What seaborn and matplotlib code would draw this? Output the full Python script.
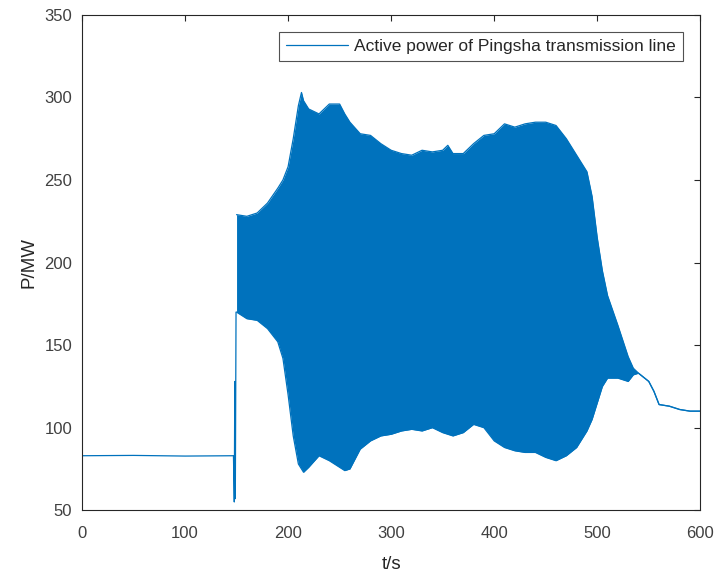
import matplotlib
matplotlib.use("Agg")
import matplotlib.pyplot as plt
import seaborn as sns
import pandas as pd

# ---- data ----
pre_t = [0, 50, 100, 147.0, 147.8, 148.3, 148.8, 149.5]
pre_p = [83, 83.2, 82.8, 83, 55, 128, 57, 170]

env_t = [150, 160, 170, 180, 190, 195, 200, 205, 210, 213, 215, 220, 230, 240, 250,
         255, 260, 270, 280, 290, 300, 310, 320, 330, 340, 350, 355, 360, 370, 380,
         390, 400, 410, 420, 430, 440, 450, 460, 470, 480, 490, 495, 500, 505, 510,
         520, 530, 535, 540, 550, 555, 560, 570, 580, 590, 600]
env_upper = [229, 228, 230, 236, 245, 250, 258, 275, 295, 303, 298, 293, 290, 296, 296,
             290, 285, 278, 277, 272, 268, 266, 265, 268, 267, 268, 271, 266, 266, 272,
             277, 278, 284, 282, 284, 285, 285, 283, 275, 265, 255, 240, 215, 195, 180,
             162, 143, 136, 133, 128, 122, 114, 113, 111, 110, 110]
env_lower = [170, 166, 165, 160, 152, 142, 120, 95, 78, 75, 73, 76, 83, 80, 76,
             74, 75, 87, 92, 95, 96, 98, 99, 98, 100, 97, 96, 95, 97, 102,
             100, 92, 88, 86, 85, 85, 82, 80, 83, 88, 98, 105, 115, 125, 130,
             130, 128, 132, 133, 128, 122, 114, 113, 111, 110, 110]

x_ticks = [0, 100, 200, 300, 400, 500, 600]
y_ticks = [50, 100, 150, 200, 250, 300, 350]
label = "Active power of Pingsha transmission line"

# ---- style ----
sns.set_theme(style="white")
plt.rcParams['font.family'] = ['Liberation Sans', 'DejaVu Sans']
color = "#0072BD"

fig = plt.figure(figsize=(7.19, 5.72), dpi=100)
ax = fig.add_axes([0.114, 0.108, 0.860, 0.866])

pre_df = pd.DataFrame({"t": pre_t, "P": pre_p})
env_df = pd.DataFrame({"t": env_t, "upper": env_upper, "lower": env_lower})

sns.lineplot(data=pre_df, x="t", y="P", ax=ax, color=color, lw=0.9, label=label,
             sort=False, estimator=None)
ax.fill_between(env_df["t"], env_df["lower"], env_df["upper"], color=color,
                linewidth=0)
sns.lineplot(data=env_df, x="t", y="upper", ax=ax, color=color, lw=0.9,
             estimator=None, sort=False)
sns.lineplot(data=env_df, x="t", y="lower", ax=ax, color=color, lw=0.9,
             estimator=None, sort=False)

ax.set_xlim(0, 600)
ax.set_ylim(50, 350)
ax.set_xticks(x_ticks)
ax.set_yticks(y_ticks)
ax.set_xlabel("t/s", fontsize=13.5, color="#262626", labelpad=11)
ax.set_ylabel("P/MW", fontsize=13.5, color="#262626", labelpad=5)
ax.tick_params(axis="both", direction="in", length=4, width=0.8, colors="#262626",
               labelsize=12, top=True, right=True, labelcolor="#404040")
ax.tick_params(axis="x", pad=11)
ax.tick_params(axis="y", pad=7)
for s in ax.spines.values():
    s.set_visible(True)
    s.set_color("#262626")
    s.set_linewidth(0.8)

leg = ax.legend(loc="upper right", fontsize=12.5, frameon=True, fancybox=False,
                edgecolor="#262626", borderaxespad=1.0, handlelength=3.6,
                handletextpad=0.35, borderpad=0.4)
leg.get_frame().set_linewidth(0.8)

fig.savefig("out.png", dpi=100)
